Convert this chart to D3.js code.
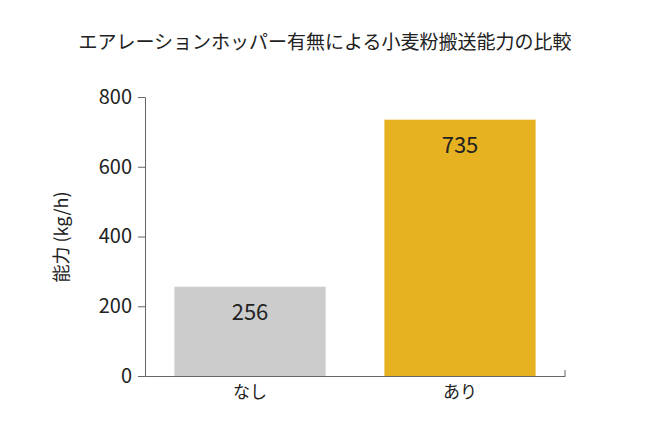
<!DOCTYPE html>
<html><head><meta charset="utf-8">
<script src="https://cdn.jsdelivr.net/npm/d3@7"></script>
<style>body{margin:0;background:#fff}text{font-family:"Noto Sans CJK JP","Noto Sans",sans-serif}</style>
</head><body><svg id="c" width="650" height="434"></svg>
<script>
const categories=["なし","あり"];
const values=[256,735];
const colors=["#cccccc","#e6b222"];
const yTicks=[0,200,400,600,800];
const svg=d3.select("#c");
const x=d3.scaleBand().domain(categories).range([145,565]).paddingInner(0.28).paddingOuter(0.14);
const y=d3.scaleLinear().domain([0,800]).range([376,97]);
svg.append("text").attr("x",325).attr("y",49).attr("text-anchor","middle").attr("font-size",19).attr("fill","#222").text("エアレーションホッパー有無による小麦粉搬送能力の比較");
svg.selectAll("rect.b").data(values).join("rect").attr("x",(d,i)=>x(categories[i])).attr("width",x.bandwidth())
 .attr("y",d=>y(d)).attr("height",d=>y(0)-y(d)).attr("fill",(d,i)=>colors[i]);
svg.selectAll("text.v").data(values).join("text").attr("x",(d,i)=>x(categories[i])+x.bandwidth()/2).attr("y",d=>y(d)+33)
 .attr("text-anchor","middle").attr("font-size",22).attr("fill","#222").text(d=>d);
const ya=svg.append("g").attr("transform","translate(145,0)").call(d3.axisLeft(y).tickValues(yTicks).tickSize(7).tickPadding(6));
ya.selectAll("text").attr("font-size",20).attr("fill","#222");
const xa=svg.append("g").attr("transform","translate(0,376)").call(d3.axisBottom(x).tickSize(0).tickPadding(10).tickSizeOuter(0));
xa.selectAll("text").attr("font-size",17).attr("fill","#222");
svg.selectAll(".domain,.tick line").attr("stroke","#666");
svg.append("line").attr("x1",565).attr("x2",565).attr("y1",370).attr("y2",376).attr("stroke","#666");
svg.append("text").attr("transform","translate(68,237) rotate(-90)").attr("text-anchor","middle").attr("font-size",18).attr("fill","#222").text("能力 (kg/h)");
</script></body></html>
